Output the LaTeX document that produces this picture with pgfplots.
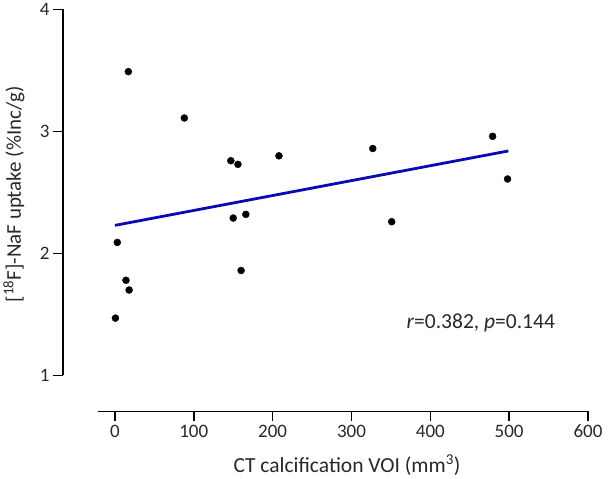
\documentclass[border=0pt]{standalone}
\usepackage{fontspec}
\setmainfont{Carlito}
\usepackage{pgfplots}
\pgfplotsset{compat=1.18}
\definecolor{txt}{HTML}{282828}
\definecolor{fitblue}{HTML}{0A0AB4}
\begin{document}
\begin{tikzpicture}
\begin{axis}[
  at={(0pt,0pt)}, anchor=south west,
  scale only axis, width=490pt, height=366pt,
  xmin=-21.5, xmax=600, ymin=1, ymax=4,
  axis x line=bottom, axis y line=left,
  axis x line shift=36pt, axis y line shift=35pt,
  axis line style={line width=1.6pt,-,black},
  xtick={0,100,...,600}, ytick={1,2,3,4},
  tick style={line width=1.5pt, black},
  major tick length=10pt,
  tick align=outside,
  /pgf/number format/assume math mode=true,
  /pgf/number format/1000 sep={},
  ticklabel style={font=\fontsize{19}{19}\selectfont, text=txt},
  every axis y label/.style={at={(rel axis cs:0,0.5)}, xshift=-77pt, yshift=-2pt, rotate=90, anchor=base, font=\fontsize{21}{21}\selectfont, text=txt},
  every axis x label/.style={at={(rel axis cs:0.5,0)}, xshift=4pt, yshift=-97pt, anchor=base, font=\fontsize{21.5}{21.5}\selectfont, text=txt},
  ylabel={[\textsuperscript{18}F]-NaF uptake (\%Inc/g)},
  xlabel={CT calcification VOI (mm\textsuperscript{3})},
  clip=false,
]
\addplot[only marks, mark=*, mark size=3.5pt, black] coordinates {
  (0.6,1.47) (3,2.09) (14,1.78) (18,1.70) (17,3.49) (88,3.11)
  (147,2.76) (156,2.73) (150,2.29) (166,2.32) (160,1.86) (208,2.80)
  (327,2.86) (351,2.26) (479,2.96) (498,2.61)
};
\addplot[fitblue, line width=2.8pt] coordinates {(0,2.23) (499,2.84)};
\node[font=\fontsize{21.5}{21.5}\selectfont, text=txt] at (axis cs:464,1.434) {\textit{r}=0.382, \textit{p}=0.144};
\end{axis}
\path[use as bounding box] (-98pt,-101pt) rectangle (516pt,371pt);
\end{tikzpicture}
\end{document}
